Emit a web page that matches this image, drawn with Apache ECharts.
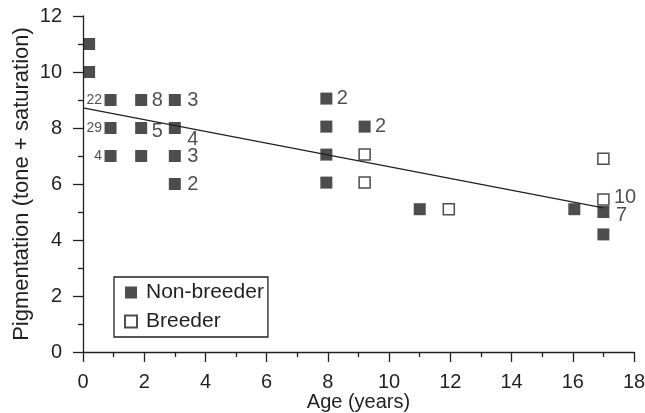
<!DOCTYPE html>
<html><head><meta charset="utf-8">
<script src="https://cdn.jsdelivr.net/npm/echarts@6/dist/echarts.min.js"></script>
<style>html,body{margin:0;padding:0;background:#fff}#c{width:645px;height:413px}</style>
</head><body><div id="c"></div>
<script>
// Data
var nonBreeder = [
  [0.2, 11], [0.2, 10],
  [0.9, 9], [0.9, 8], [0.9, 7],
  [1.9, 9], [1.9, 8], [1.9, 7],
  [3.0, 9], [3.0, 8], [3.0, 7], [3.0, 6],
  [7.95, 9.05], [7.95, 8.05], [7.95, 7.05], [7.95, 6.05],
  [9.2, 8.05],
  [11.0, 5.1], [16.05, 5.1], [17.0, 5.0], [17.0, 4.2]
];
var breeder = [
  [9.2, 7.05], [9.2, 6.05], [11.95, 5.1], [17.0, 6.9], [17.0, 5.45]
];
// count annotations: [x, y, text]
var countsSmall = [[0.9, 9, '22'], [0.9, 8, '29'], [0.9, 7, '4']];
var countsLarge = [
  [1.9, 9, '8'], [1.9, 8, '5'], [3.0, 9, '3'], [3.0, 8, '4'], [3.0, 7, '3'], [3.0, 6, '2'],
  [7.95, 9.05, '2'], [9.2, 8.05, '2'], [17.0, 5.45, '10'], [17.0, 5.0, '7']
];
var trendLine = [[0, 8.72], [17, 5.15]];
var xTicks = [0, 2, 4, 6, 8, 10, 12, 14, 16, 18];
var yTicks = [0, 2, 4, 6, 8, 10, 12];

var ink = '#231f20';
var font = 'Liberation Sans, Arial, sans-serif';
// per-label pixel offsets (layout only)
var labelOffsets = {'1.9,8': [0, 3], '3,8': [2, 11], '3,9': [2, 0], '3,7': [2, 0], '3,6': [2, 0],
                    '17,5.45': [0, -2], '17,5': [2, 3]};

var largeData = countsLarge.map(function (c) {
  var off = labelOffsets[c[0] + ',' + c[1]] || [0, 0];
  return {value: [c[0], c[1]], name: c[2], label: {offset: off}};
});
var smallData = countsSmall.map(function (c) { return {value: [c[0], c[1]], name: c[2]}; });

function axisCommon() {
  return {
    nameMoveOverlap: false,
    axisLine: {show: true, lineStyle: {color: ink, width: 1.3}},
    axisTick: {show: true, inside: false, length: 10, lineStyle: {color: ink, width: 1.3}},
    minorTick: {show: true, splitNumber: 2, length: 5, lineStyle: {color: ink, width: 1.3}},
    splitLine: {show: false}
  };
}

var option = {
  animation: false,
  backgroundColor: '#fff',
  grid: {left: 83, right: 11, top: 16, bottom: 61, containLabel: false, outerBoundsMode: 'none'},
  legend: {
    data: ['Non-breeder', 'Breeder'],
    orient: 'vertical', left: 114, top: 277,
    padding: [5, 4, 5, 10], itemGap: 8,
    borderColor: ink, borderWidth: 1.3,
    itemWidth: 12, itemHeight: 12,
    textStyle: {color: ink, fontSize: 21, fontFamily: font, padding: [0, 0, 0, 4]}
  },
  xAxis: Object.assign({
    type: 'value', min: xTicks[0], max: xTicks[xTicks.length - 1], interval: 2,
    name: 'Age (years)', nameLocation: 'middle', nameGap: 40,
    nameTextStyle: {color: ink, fontSize: 20, fontFamily: font},
    axisLabel: {color: ink, fontSize: 20, fontFamily: font, margin: 20}
  }, axisCommon()),
  yAxis: Object.assign({
    type: 'value', min: yTicks[0], max: yTicks[yTicks.length - 1], interval: 2,
    name: 'Pigmentation (tone + saturation)', nameLocation: 'middle', nameGap: 50,
    nameTextStyle: {color: ink, fontSize: 22, fontFamily: font},
    axisLabel: {color: ink, fontSize: 20, fontFamily: font, margin: 21}
  }, axisCommon()),
  series: [
    {type: 'line', data: trendLine, symbol: 'none', silent: true,
     lineStyle: {color: ink, width: 1.3}, z: 1},
    {name: 'Non-breeder', type: 'scatter', data: nonBreeder, symbol: 'rect', symbolSize: 12,
     itemStyle: {color: ink, borderColor: ink, borderWidth: 0}, z: 3},
    {name: 'Breeder', type: 'scatter', data: breeder, symbol: 'rect', symbolSize: 11,
     itemStyle: {color: '#fff', borderColor: ink, borderWidth: 1.5}, z: 3},
    {type: 'scatter', data: largeData, symbol: 'circle', symbolSize: 1, silent: true, z: 4,
     itemStyle: {color: 'rgba(0,0,0,0)'},
     label: {show: true, position: 'right', distance: 10, formatter: '{b}',
             color: ink, fontSize: 20, fontFamily: font}},
    {type: 'scatter', data: smallData, symbol: 'circle', symbolSize: 1, silent: true, z: 4,
     itemStyle: {color: 'rgba(0,0,0,0)'},
     label: {show: true, position: 'left', distance: 8, formatter: '{b}',
             color: ink, fontSize: 14, fontFamily: font}}
  ]
};
echarts.init(document.getElementById('c')).setOption(option);
</script>
</body></html>
